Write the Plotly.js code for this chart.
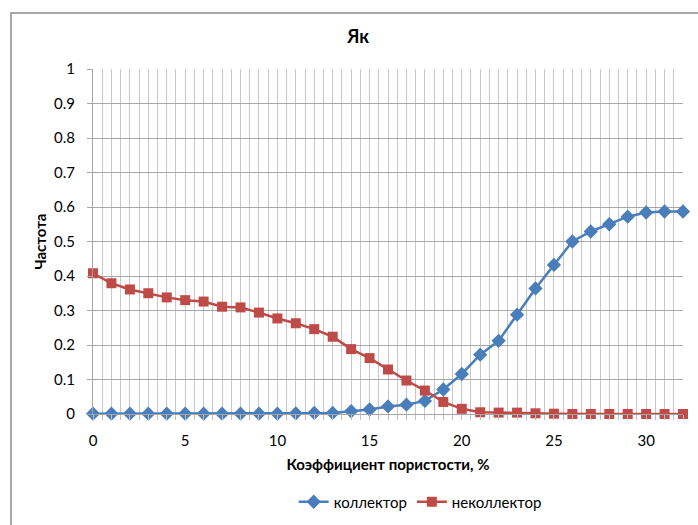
<!DOCTYPE html>
<html>
<head>
<meta charset="utf-8">
<script src="https://cdn.plot.ly/plotly-3.0.1.min.js"></script>
<style>
  html, body { margin: 0; padding: 0; background: #ffffff; }
  #chart { width: 698px; height: 525px; }
</style>
</head>
<body>
<div id="chart"></div>
<script>
// Porosity coefficient, %
const porosity = [0,1,2,3,4,5,6,7,8,9,10,11,12,13,14,15,16,17,18,19,20,21,22,23,24,25,26,27,28,29,30,31,32];
// Frequency – collector
const collector = [0.001,0.001,0.001,0.001,0.001,0.001,0.001,0.001,0.001,0.001,0.001,0.002,0.003,0.003,0.008,0.013,0.022,0.027,0.038,0.071,0.116,0.172,0.212,0.288,0.364,0.432,0.500,0.529,0.550,0.572,0.584,0.587,0.587];
// Frequency – non-collector
const nonCollector = [0.408,0.379,0.361,0.350,0.338,0.330,0.326,0.311,0.309,0.294,0.277,0.263,0.246,0.224,0.188,0.162,0.129,0.097,0.068,0.035,0.015,0.005,0.004,0.004,0.002,0.001,0,0,0,0,0,0,0];
const seriesNames = ['коллектор', 'неколлектор'];
const xTickVals = [0,5,10,15,20,25,30];
const yTickVals = [0,0.1,0.2,0.3,0.4,0.5,0.6,0.7,0.8,0.9,1];
const yTickText = ['0','0.1','0.2','0.3','0.4','0.5','0.6','0.7','0.8','0.9','1'];

const FONT = 'Lato, Carlito, Calibri, "Open Sans", sans-serif';

const traces = [
  {
    x: porosity, y: collector, name: seriesNames[0],
    type: 'scatter', mode: 'lines+markers', cliponaxis: false,
    line: { color: '#4A7EBB', width: 2.5 },
    marker: { symbol: 'diamond', size: 11, color: '#4A7EBB' }
  },
  {
    x: porosity, y: nonCollector, name: seriesNames[1],
    type: 'scatter', mode: 'lines+markers', cliponaxis: false,
    line: { color: '#BE4B48', width: 2.5 },
    marker: { symbol: 'square', size: 10, color: '#BE4B48' }
  }
];

const layout = {
  width: 698, height: 525,
  margin: { l: 93, r: 15, t: 69, b: 111 },
  paper_bgcolor: '#ffffff', plot_bgcolor: '#ffffff',
  font: { family: FONT, size: 15, color: '#000000' },
  title: {
    text: '<b>Як</b>', font: { family: FONT, size: 18, color: '#000000' },
    x: 0.513, xref: 'container', xanchor: 'center',
    y: 0.93, yref: 'container', yanchor: 'middle'
  },
  xaxis: {
    range: [0, 32], tickvals: xTickVals, ticktext: xTickVals.map(String),
    showgrid: true, gridcolor: '#C8C8C8', gridwidth: 1,
    minor: { dtick: 0.5, tick0: 0, showgrid: true, gridcolor: '#C8C8C8', gridwidth: 1, ticks: 'outside', ticklen: 5, tickcolor: '#BFBFBF' },
    ticks: 'outside', ticklen: 5, tickcolor: '#BFBFBF',
    ticklabelstandoff: 8,
    showline: true, linecolor: '#A6A6A6', linewidth: 1,
    zeroline: false, automargin: false,
    tickfont: { family: FONT, size: 15, color: '#000000' },
    title: { text: '<b>Коэффициент пористости, %</b>', font: { family: FONT, size: 15, color: '#000000' }, standoff: 11 }
  },
  yaxis: {
    range: [0, 1], tickvals: yTickVals, ticktext: yTickText,
    showgrid: true, gridcolor: '#A6A6A6', gridwidth: 1,
    ticks: 'outside', ticklen: 5, tickcolor: '#A6A6A6',
    ticklabelstandoff: 9,
    showline: true, linecolor: '#A6A6A6', linewidth: 1,
    zeroline: false, automargin: false,
    tickfont: { family: FONT, size: 15, color: '#000000' },
    title: { text: '<b>Частота</b>', font: { family: FONT, size: 15, color: '#000000' }, standoff: 3 }
  },
  legend: {
    orientation: 'h', xref: 'container', x: 0.602, xanchor: 'center',
    yref: 'container', y: 0.0438, yanchor: 'middle',
    itemwidth: 30,
    font: { family: FONT, size: 15, color: '#000000' }, bgcolor: 'rgba(0,0,0,0)'
  },
  shapes: [
    { type: 'rect', xref: 'paper', yref: 'paper', x0: -0.139, x1: 1.2, y0: -0.5, y1: 1.162,
      line: { color: '#8C8C8C', width: 1.5 }, fillcolor: 'rgba(0,0,0,0)', layer: 'below' }
  ],
  showlegend: true
};

Plotly.newPlot('chart', traces, layout, { displayModeBar: false, staticPlot: true });
</script>
</body>
</html>
